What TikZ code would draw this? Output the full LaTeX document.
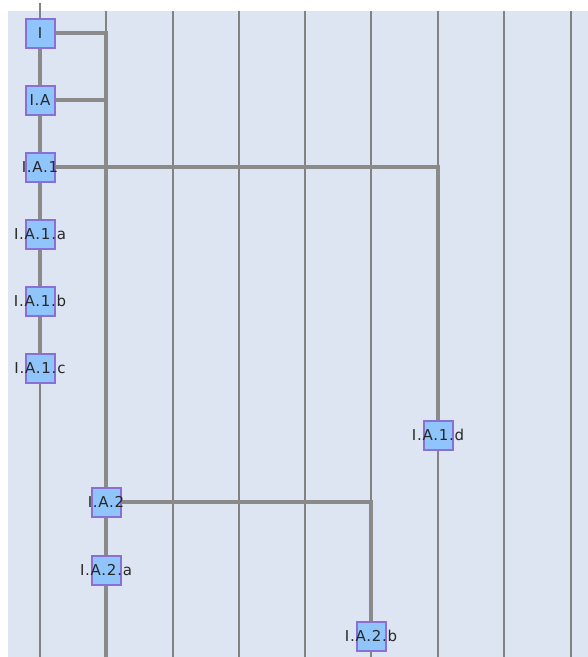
\documentclass[tikz,border=0pt]{standalone}
\usepackage{fontspec}
\setmainfont{DejaVu Sans}
\newfontfamily\lblfont[LetterSpace=5]{DejaVu Sans}
\definecolor{bgc}{RGB}{221,228,242}
\definecolor{gridc}{RGB}{130,130,130}
\definecolor{linkc}{RGB}{138,138,138}
\definecolor{boxfill}{RGB}{143,197,250}
\definecolor{boxdraw}{RGB}{138,112,214}
\definecolor{txtc}{RGB}{40,40,40}
\begin{document}
\begin{tikzpicture}[x=1pt,y=-1pt,
  gridline/.style={draw=gridc,line width=1.1pt},
  link/.style={draw=linkc,line width=3.4pt},
  nodebox/.style={draw=boxdraw,line width=2pt,fill=boxfill,minimum width=29pt,minimum height=29pt,inner sep=0pt},
  lbl/.style={text=txtc,font=\lblfont\fontsize{15}{17}\selectfont,inner sep=0pt}]
\useasboundingbox (0,0) rectangle (588,657);
\fill[bgc] (8,11) rectangle (588,657);
\draw[gridline] (40,3) -- (40,657);
\foreach \x in {106,173,239,305,371,438,504,571} {\draw[gridline] (\x,11) -- (\x,657);}
% boxes
\node[nodebox] (n1) at (40,33) {};
\node[nodebox] (n2) at (40,100) {};
\node[nodebox] (n3) at (40,167) {};
\node[nodebox] (n4) at (40,234) {};
\node[nodebox] (n5) at (40,301) {};
\node[nodebox] (n6) at (40,368) {};
\node[nodebox] (n7) at (438,435) {};
\node[nodebox] (n8) at (106,502) {};
\node[nodebox] (n9) at (106,570) {};
\node[nodebox] (n10) at (371,636) {};
\coordinate (c1) at (106,33);
\coordinate (c2) at (106,100);
\coordinate (c3) at (438,167);
\coordinate (c4) at (371,502);
\coordinate (cend) at (106,657);
% links
\draw[link] (n1.south) -- (n2.north);
\draw[link] (n2.south) -- (n3.north);
\draw[link] (n3.south) -- (n4.north);
\draw[link] (n4.south) -- (n5.north);
\draw[link] (n5.south) -- (n6.north);
\draw[link] (n1.east) -- (c1) -- (c2) -- (n8.north);
\draw[link] (n2.east) -- (c2);
\draw[link] (n8.south) -- (n9.north);
\draw[link] (n9.south) -- (cend);
\draw[link] (n3.east) -- (c3) -- (n7.north);
\draw[link] (n8.east) -- (c4) -- (n10.north);
% labels
\foreach \n/\t in {n1/I,n2/I.A,n3/I.A.1,n4/I.A.1.a,n5/I.A.1.b,n6/I.A.1.c,n7/I.A.1.d,n8/I.A.2,n9/I.A.2.a,n10/I.A.2.b}
  {\node[lbl] at (\n.center) {\t};}
\end{tikzpicture}
\end{document}
